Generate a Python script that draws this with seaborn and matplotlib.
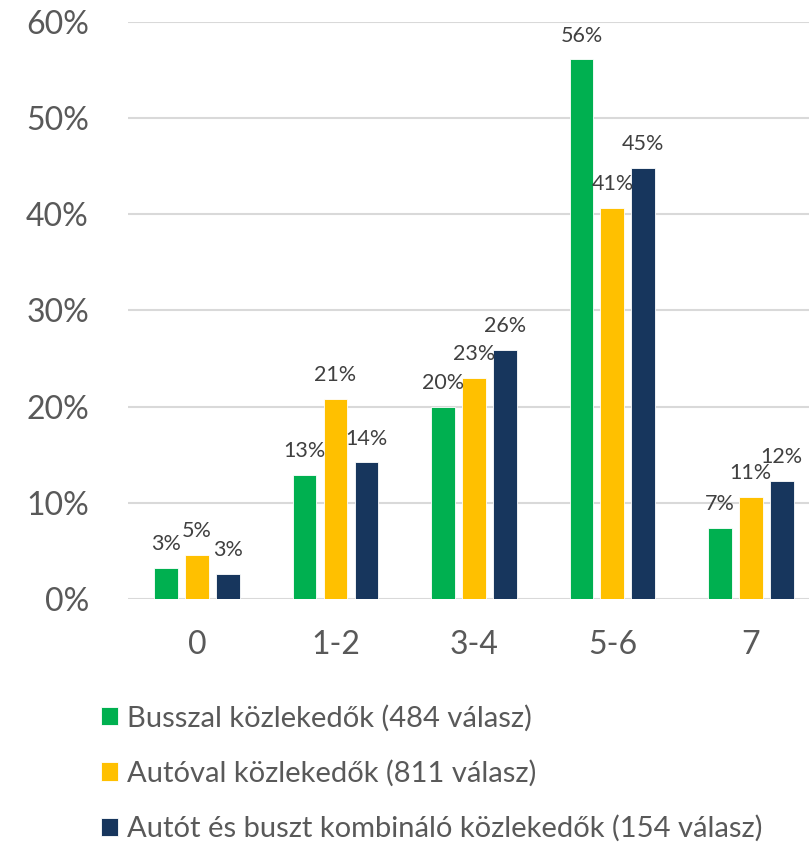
import pandas as pd
import matplotlib
matplotlib.use("Agg")
import matplotlib.pyplot as plt
import seaborn as sns

# Chart data (percent of respondents)
categories = ['0', '1-2', '3-4', '5-6', '7']
series_names = [
    'Busszal közlekedők (484 válasz)',
    'Autóval közlekedők (811 válasz)',
    'Autót és buszt kombináló közlekedők (154 válasz)',
]
bus_values = [3.2, 12.9, 20.0, 56.1, 7.4]
car_values = [4.6, 20.8, 23.0, 40.7, 10.6]
combo_values = [2.6, 14.2, 25.9, 44.8, 12.3]
colors = ['#00B050', '#FFC000', '#17365D']

# Long-form table for seaborn
rows = []
for name, vals in zip(series_names, [bus_values, car_values, combo_values]):
    for cat, v in zip(categories, vals):
        rows.append({'Napok': cat, 'Arány': v, 'Csoport': name})
df = pd.DataFrame(rows)

sns.set_style('white')
plt.rcParams['font.family'] = ['Lato', 'DejaVu Sans']

fig = plt.figure(figsize=(8.09, 8.42), dpi=100)
ax = fig.add_axes([0.158, 0.2886, 0.842, 0.6853])

sns.barplot(data=df, x='Napok', y='Arány', hue='Csoport', order=categories,
            hue_order=series_names, palette=colors, width=0.67, gap=0.23,
            saturation=1, edgecolor='white', linewidth=0.6, ax=ax)

# Data labels
for cont, vals in zip(ax.containers, [bus_values, car_values, combo_values]):
    ax.bar_label(cont, labels=[f'{round(v):d}%' for v in vals], padding=10,
                 fontsize=15.5, color='#404040')

# Axes styling
ax.set_ylim(0, 60)
ax.set_xlim(-0.5, 4.42)
ax.set_yticks(range(0, 61, 10))
ax.set_yticklabels([f'{t}%' for t in range(0, 61, 10)])
ax.yaxis.grid(True, color='#D9D9D9', linewidth=1.5)
ax.set_axisbelow(True)
for s in ['top', 'right', 'left', 'bottom']:
    ax.spines[s].set_visible(False)
ax.tick_params(axis='y', length=0, pad=28, labelsize=23, labelcolor='#595959')
ax.tick_params(axis='x', length=0, pad=22, labelsize=23, labelcolor='#595959')
ax.set_xlabel('')
ax.set_ylabel('')

# Legend below the chart
handles, labels = ax.get_legend_handles_labels()
ax.get_legend().remove()
fig.legend(handles, labels, loc='upper left', bbox_to_anchor=(0.125, 0.163),
           frameon=False, fontsize=21, labelcolor='#595959', borderpad=0,
           borderaxespad=0, handlelength=0.58, handleheight=0.58,
           handletextpad=0.3, labelspacing=0.97)

fig.savefig('out.png', dpi=100)
